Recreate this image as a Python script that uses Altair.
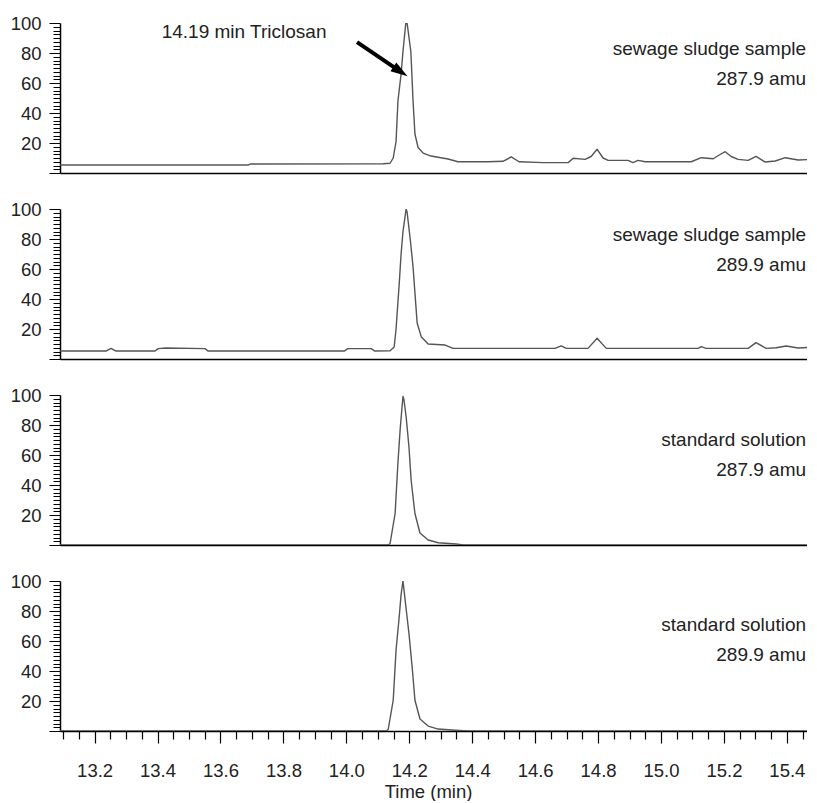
import altair as alt
import pandas as pd

# ---- data ----
t1 = [13.090, 13.688, 13.694, 14.117, 14.139, 14.149, 14.153, 14.158, 14.164, 14.174, 14.180, 14.189, 14.193,
      14.205, 14.212, 14.218, 14.228, 14.244, 14.269, 14.323, 14.355, 14.450, 14.498, 14.524, 14.549, 14.625,
      14.705, 14.721, 14.759, 14.778, 14.797, 14.816, 14.832, 14.895, 14.911, 14.927, 14.950, 15.096, 15.128,
      15.166, 15.185, 15.204, 15.223, 15.245, 15.277, 15.302, 15.331, 15.363, 15.395, 15.436, 15.490]
v1 = [5.3, 5.3, 6.0, 6.2, 6.5, 10, 15, 21, 48, 66, 81, 100, 100,
      81, 48, 26, 17, 13.3, 11.3, 9.3, 7.5, 7.5, 7.8, 10.7, 7.5, 6.9,
      6.9, 9.8, 9.1, 11, 15.8, 10, 8.4, 8.4, 6.9, 8.4, 7.5, 7.5, 10.2,
      9.5, 12, 14.2, 11, 9.1, 8.4, 11.1, 7.3, 8, 10.2, 8.7, 9.1]

t2 = [13.090, 13.236, 13.252, 13.268, 13.392, 13.402, 13.427, 13.551, 13.560, 13.993, 14.005, 14.079, 14.091,
      14.139, 14.152, 14.158, 14.168, 14.174, 14.180, 14.190, 14.193, 14.203, 14.212, 14.225, 14.238, 14.260,
      14.314, 14.339, 14.663, 14.683, 14.699, 14.768, 14.797, 14.826, 15.118, 15.128, 15.143, 15.277, 15.302,
      15.334, 15.366, 15.398, 15.436, 15.490]
v2 = [5.3, 5.3, 7.1, 5.3, 5.3, 6.9, 7.3, 6.9, 5.3, 5.3, 6.9, 6.9, 5.3,
      5.5, 8, 20, 50, 70, 85, 100, 98, 80, 61.5, 24, 14.9, 10,
      9.3, 7.1, 7.1, 8.7, 7.1, 7.1, 13.8, 7.1, 7.1, 8.2, 7.1, 7.1, 10.9,
      7.1, 7.5, 8.7, 7.3, 8]

t3 = [13.090, 14.133, 14.139, 14.155, 14.164, 14.171, 14.177, 14.180, 14.183, 14.190, 14.199, 14.206, 14.218,
      14.234, 14.260, 14.292, 14.349, 14.371, 15.490]
v3 = [0, 0, 1, 21, 55, 77, 92, 99, 97, 85.5, 65.5, 43, 21,
      8, 3.3, 1.5, 0.7, 0, 0]

t4 = [13.090, 14.126, 14.133, 14.149, 14.158, 14.168, 14.174, 14.180, 14.187, 14.199, 14.209, 14.218,
      14.234, 14.260, 14.292, 14.346, 14.387, 15.490]
v4 = [0, 0, 1, 20.5, 54, 76, 91, 100, 87, 65, 43, 20.5,
      8, 3.3, 1.3, 0.5, 0, 0]

panel_labels = [
    ["sewage sludge sample", "287.9 amu"],
    ["sewage sludge sample", "289.9 amu"],
    ["standard solution", "287.9 amu"],
    ["standard solution", "289.9 amu"],
]
label_x = 15.461
label_y = [[82.7, 62.7], [83.0, 63.0], [70.0, 50.0], [71.0, 51.0]]

annot_text = "14.19 min Triclosan"
annot_x, annot_y = 13.675, 94.0
arrow_start = (14.034, 87.3)
arrow_head = (14.172, 67.6)
arrow_angle = 33.7

x_ticks = [round(13.10 + 0.05 * i, 2) for i in range(48)]
y_ticks = [i * 2.5 for i in range(41)]

FONT = "Liberation Sans"
TXT = "#222222"

xscale = alt.Scale(domain=[13.09, 15.464], nice=False, zero=False)
yscale = alt.Scale(domain=[0, 100], nice=False, zero=False)

yaxis = alt.Axis(
    values=y_ticks,
    labelExpr="datum.value % 20 === 0 && datum.value > 0 ? format(datum.value, 'd') : ''",
    tickSize={"condition": {"test": "datum.value % 20 === 0", "value": 11}, "value": 7},
    labelFontSize=18.5, labelFont=FONT, labelColor=TXT, labelPadding=8,
    labelOverlap=False, labelFlush=False, labelBaseline="middle",
    domainColor="black", domainWidth=1.5, tickColor="black", tickWidth=1,
    grid=False, title=None,
)

xaxis_top = alt.Axis(labels=False, ticks=False, title=None, grid=False,
                     domainColor="black", domainWidth=1.5)

xaxis_bottom = alt.Axis(
    values=x_ticks,
    labelExpr="round(datum.value * 20) % 4 === 0 ? format(datum.value, '.1f') : ''",
    tickSize={"condition": {"test": "round(datum.value * 20) % 4 === 0", "value": 12}, "value": 8},
    labelFontSize=18.5, labelFont=FONT, labelColor=TXT, labelPadding=18,
    labelOverlap=False, labelFlush=False,
    domainColor="black", domainWidth=1.5, tickColor="black", tickWidth=1.2,
    grid=False, title="Time (min)", titleFont=FONT, titleFontSize=18.5,
    titleFontWeight="normal", titleColor=TXT, titleX=368, titleY=60,
    titleBaseline="middle",
)


def panel(ts, vs, idx, bottom=False, annotate=False):
    xa = xaxis_bottom if bottom else xaxis_top
    X = alt.X("t:Q", scale=xscale, axis=xa)
    Y = alt.Y("v:Q", scale=yscale, axis=yaxis)
    df = pd.DataFrame({"t": ts, "v": vs})
    line = alt.Chart(df).mark_line(color="#555555", strokeWidth=1.4, clip=True,
                                   strokeJoin="round").encode(x=X, y=Y)
    ldf = pd.DataFrame({"t": [label_x, label_x], "v": label_y[idx],
                        "label": panel_labels[idx]})
    txt = alt.Chart(ldf).mark_text(align="right", baseline="middle", font=FONT,
                                   fontSize=19, color=TXT).encode(
        x=X, y=Y, text="label:N")
    layers = [line, txt]
    if annotate:
        adf = pd.DataFrame({"t": [annot_x], "v": [annot_y], "label": [annot_text]})
        atext = alt.Chart(adf).mark_text(align="center", baseline="middle", font=FONT,
                                         fontSize=19, color=TXT).encode(
            x=X, y=Y, text="label:N")
        rdf = pd.DataFrame({"t": [arrow_start[0]], "v": [arrow_start[1]],
                            "t2": [arrow_head[0]], "v2": [arrow_head[1]]})
        rule = alt.Chart(rdf).mark_rule(color="black", strokeWidth=4).encode(
            x=X, y=Y, x2="t2:Q", y2="v2:Q")
        hdf = pd.DataFrame({"t": [arrow_head[0]], "v": [arrow_head[1]]})
        head = alt.Chart(hdf).mark_point(shape="M-1,-0.62L1,0L-1,0.62Z", filled=True,
                                         size=290, color="black", opacity=1,
                                         angle=arrow_angle).encode(x=X, y=Y)
        layers += [atext, rule, head]
    return alt.layer(*layers).properties(width=747, height=150)


chart = alt.vconcat(
    panel(t1, v1, 0, annotate=True),
    panel(t2, v2, 1),
    panel(t3, v3, 2),
    panel(t4, v4, 3, bottom=True),
    spacing=17,
).properties(
    padding={"left": 2, "top": 6, "right": 0, "bottom": 0},
    background="white",
).configure_view(stroke=None).configure_axis(grid=False)

chart.save("out.html", embed_options={"renderer": "svg", "actions": False})
